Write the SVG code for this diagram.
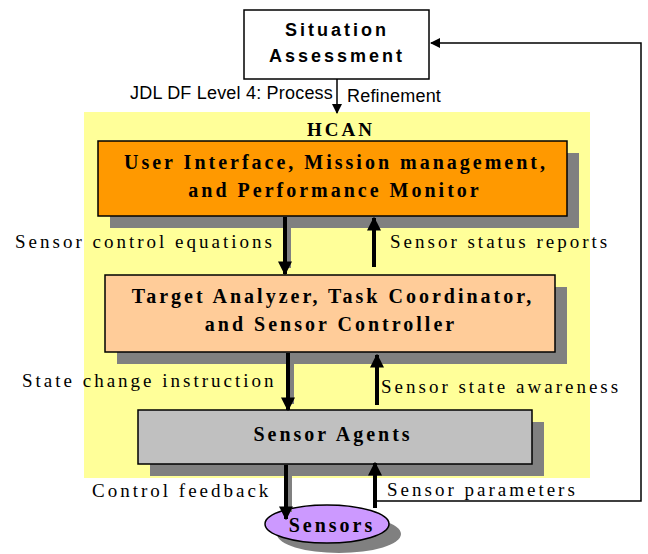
<svg xmlns="http://www.w3.org/2000/svg" width="648" height="554" viewBox="0 0 648 554">
<defs>
<marker id="ah" viewBox="0 0 10 10" refX="9" refY="5" markerWidth="3.5" markerHeight="3.5" orient="auto" markerUnits="strokeWidth"><path d="M0,0 L10,5 L0,10 z" fill="#000"/></marker>
<marker id="ahThin" viewBox="0 0 10 10" refX="9" refY="5" markerWidth="10" markerHeight="10" orient="auto" markerUnits="userSpaceOnUse"><path d="M0,0 L10,5 L0,10 z" fill="#000"/></marker>
</defs>
<style>
.box{stroke:#000;stroke-width:1.5}
.sh{fill:#808080}
.lbl{font-family:'Liberation Serif',serif;font-size:19px;letter-spacing:3px;fill:#000}
.ttl{font-family:'Liberation Serif',serif;font-size:20px;font-weight:bold;letter-spacing:3px;fill:#000;text-anchor:middle}
.sans{font-family:'Liberation Sans',sans-serif;fill:#000}
.thick{stroke:#000;stroke-width:4;fill:none;marker-end:url(#ah)}
.thicks{stroke:#808080;stroke-width:4;fill:none}
.thin{stroke:#000;stroke-width:1.5;fill:none}
</style>
<rect x="0" y="0" width="648" height="554" fill="#fff"/>
<rect id="hcan-bg" x="84" y="112" width="506" height="366" fill="#FFFF99"/>
<text class="ttl" x="341" y="136" style="font-size:19px">HCAN</text>

<g id="situation">
<rect class="box" x="244" y="10" width="185" height="69" fill="#fff"/>
<text class="sans" x="337" y="36" font-size="18" font-weight="bold" text-anchor="middle" letter-spacing="3">Situation</text>
<text class="sans" x="337" y="62" font-size="18" font-weight="bold" text-anchor="middle" letter-spacing="3">Assessment</text>
</g>

<g id="ui">
<rect class="sh" x="110" y="153" width="469" height="75"/>
<rect class="box" x="98" y="141" width="469" height="75" fill="#FF9900"/>
<text class="ttl" x="336" y="169">User Interface, Mission management,</text>
<text class="ttl" x="335" y="197">and Performance Monitor</text>
</g>

<g id="target">
<rect class="sh" x="117" y="287" width="450" height="77"/>
<rect class="box" x="105" y="275" width="450" height="77" fill="#FFCC99"/>
<text class="ttl" x="333" y="303">Target Analyzer, Task Coordinator,</text>
<text class="ttl" x="331" y="331">and Sensor Controller</text>
</g>

<g id="agents">
<rect class="sh" x="150" y="422" width="394" height="54"/>
<rect class="box" x="138" y="410" width="394" height="54" fill="#C0C0C0"/>
<text class="ttl" x="333" y="441">Sensor Agents</text>
</g>

<g id="sensors">
<ellipse class="sh" cx="339" cy="534" rx="62" ry="19"/>
<ellipse class="box" cx="327" cy="524" rx="62" ry="19" fill="#CC99FF"/>
<text class="ttl" x="332" y="532">Sensors</text>
</g>

<g id="connectors">
<line class="thin" x1="337" y1="79" x2="337" y2="113" marker-end="url(#ahThin)"/>
<polyline class="thin" points="376,501 641,501 641,43 431,43" marker-end="url(#ahThin)"/>
<line class="thicks" x1="289" y1="217" x2="289" y2="268"/>
<line class="thick" x1="285" y1="217" x2="285" y2="274"/>
<line class="thick" x1="374" y1="267" x2="374" y2="218"/>
<line class="thicks" x1="292" y1="353" x2="292" y2="404"/>
<line class="thick" x1="288" y1="353" x2="288" y2="410"/>
<line class="thick" x1="377" y1="405" x2="377" y2="355"/>
<line class="thicks" x1="290" y1="465" x2="290" y2="512"/>
<line class="thick" x1="286" y1="465" x2="286" y2="519"/>
<line class="thick" x1="375" y1="508" x2="375" y2="463"/>
</g>

<g id="labels">
<text class="sans" x="130" y="99" font-size="18" letter-spacing="0.2">JDL DF Level 4: Process</text>
<text class="sans" x="347" y="102" font-size="18" letter-spacing="0.2">Refinement</text>
<text class="lbl" x="15" y="248">Sensor control equations</text>
<text class="lbl" x="390" y="248">Sensor status reports</text>
<text class="lbl" x="22" y="387">State change instruction</text>
<text class="lbl" x="381" y="393">Sensor state awareness</text>
<text class="lbl" x="92" y="497">Control feedback</text>
<text class="lbl" x="387" y="496">Sensor parameters</text>
</g>
</svg>
